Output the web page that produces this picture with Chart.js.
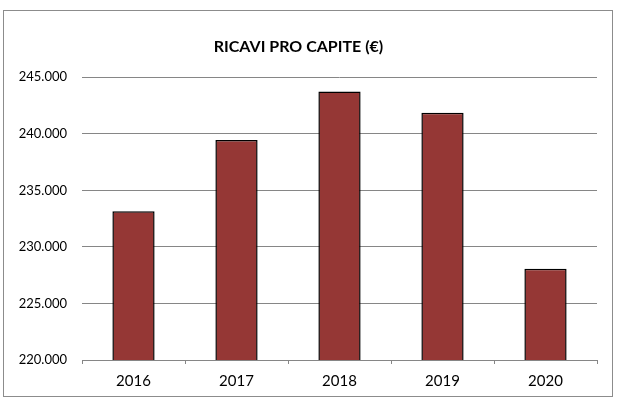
<!DOCTYPE html>
<html>
<head>
<meta charset="utf-8">
<script src="https://cdn.jsdelivr.net/npm/chart.js@4/dist/chart.umd.min.js"></script>
<style>
  body { margin: 0; background: #fff; }
  #wrap { position: relative; width: 618px; height: 401px; }
  #frame { position: absolute; left: 3px; top: 10px; width: 610px; height: 387px; border: 1px solid #8c8c8c; box-sizing: border-box; pointer-events: none; }
</style>
</head>
<body>
<div id="wrap">
  <canvas id="grafico" width="618" height="401"></canvas>
  <div id="frame"></div>
</div>
<script>
const anni = ["2016", "2017", "2018", "2019", "2020"];
const ricavi = [233150, 239440, 243730, 241850, 228060];
const titolo = "RICAVI PRO CAPITE (€)";
const yMin = 220000, yMax = 245000, yStep = 5000;

const grigio = "#868686";

function formatta(v) {
    return String(v).replace(/\B(?=(\d{3})+(?!\d))/g, ".");
}

const ctx = document.getElementById("grafico").getContext("2d");
new Chart(ctx, {
    type: "bar",
    data: {
        labels: anni,
        datasets: [{
            label: titolo,
            data: ricavi,
            backgroundColor: "#953735",
            borderColor: "#000000",
            borderWidth: 1.5,
            categoryPercentage: 1,
            barPercentage: 0.41
        }]
    },
    options: {
        responsive: false,
        animation: false,
        layout: { padding: { left: 0, right: 21, top: 0, bottom: 0 } },
        plugins: {
            legend: { display: false },
            tooltip: { enabled: false },
            title: {
                display: true,
                text: titolo,
                color: "#000",
                font: { family: "Lato", size: 16, weight: "bold" },
                padding: { top: 37, bottom: 21 }
            }
        },
        scales: {
            x: {
                offset: true,
                border: { display: true, color: grigio },
                grid: {
                    offset: true,
                    drawOnChartArea: true,
                    color: (c) => c.index === anni.length ? grigio : "rgba(0,0,0,0)",
                    tickColor: grigio,
                    tickLength: 4
                },
                ticks: { color: "#000", font: { family: "Lato", size: 15 }, padding: 8 },
                afterFit: (s) => { s.height = 41; }
            },
            y: {
                min: yMin,
                max: yMax,
                border: { display: false },
                grid: { color: grigio, drawTicks: false },
                ticks: {
                    stepSize: yStep,
                    color: "#000",
                    font: { family: "Lato", size: 13 },
                    padding: 15,
                    callback: (v) => formatta(v)
                },
                afterFit: (s) => { s.width = 82; }
            }
        }
    }
});
</script>
</body>
</html>
